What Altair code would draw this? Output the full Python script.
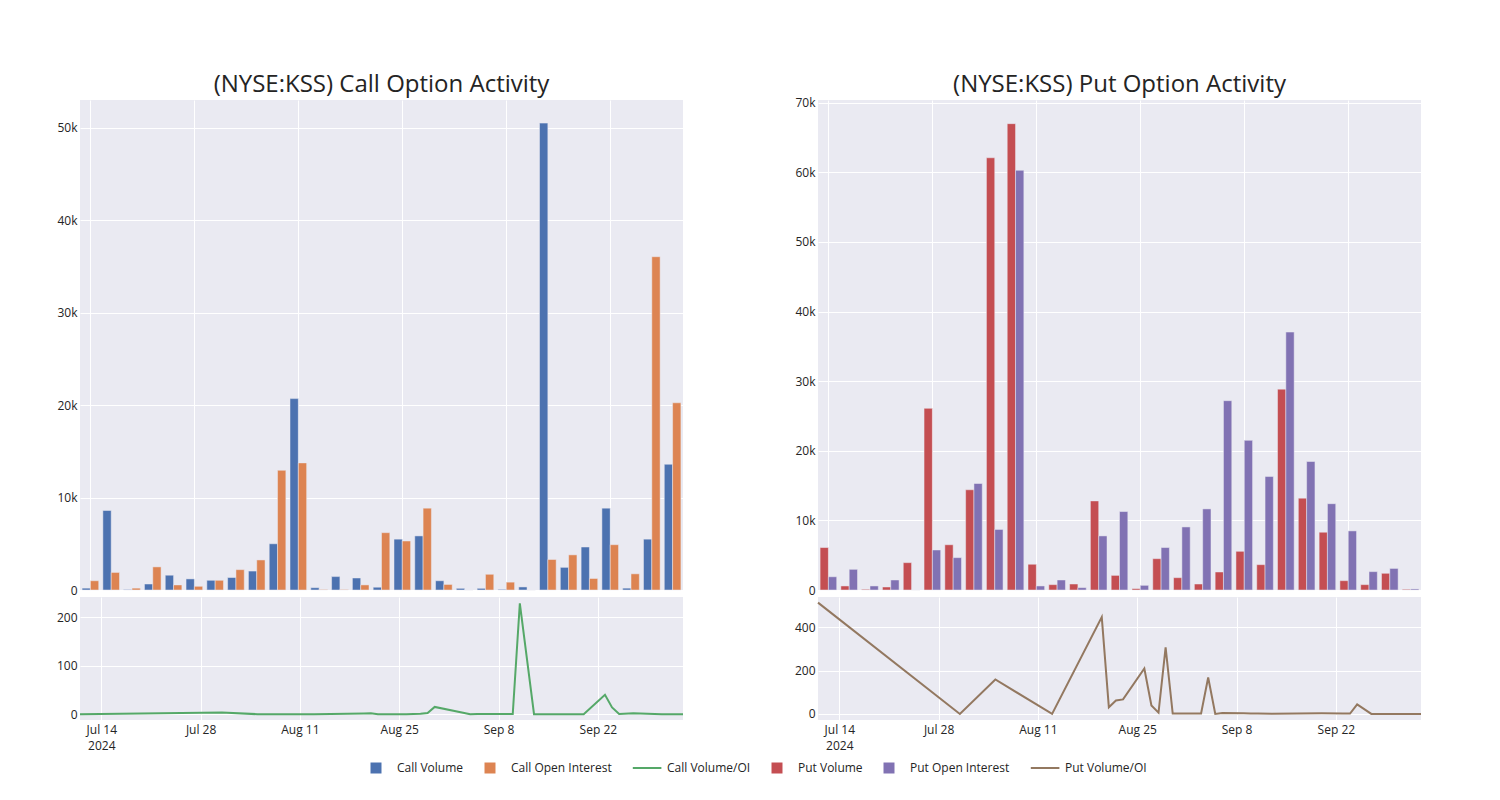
import altair as alt
import pandas as pd

# ---------------- data ----------------
dates = ["2024-07-11", "2024-07-31", "2024-08-05", "2024-08-13", "2024-08-20", "2024-08-21",
         "2024-08-22", "2024-08-23", "2024-08-26", "2024-08-27", "2024-08-28", "2024-08-29",
         "2024-08-30", "2024-09-03", "2024-09-04", "2024-09-05", "2024-09-06", "2024-09-09",
         "2024-09-10", "2024-09-11", "2024-09-13", "2024-09-20", "2024-09-23", "2024-09-24",
         "2024-09-25", "2024-09-27", "2024-09-30", "2024-10-01", "2024-10-04"]

call_volume = [200, 8600, 50, 650, 1600, 1200, 1050, 1350, 2050, 5000, 20700, 250, 1450, 1300,
               300, 5500, 5850, 1000, 180, 180, 70, 330, 50500, 2450, 4650, 8850, 200, 5500, 13600]
call_open_interest = [1000, 1900, 200, 2500, 550, 400, 1050, 2200, 3250, 12950, 13750, 50, 50, 550,
                      6200, 5300, 8850, 600, 0, 1700, 850, 0, 3300, 3800, 1250, 4900, 1750, 36050, 20250]
call_vol_oi = [0, 3.5, 0, 0, 1.5, 2, 0, 0, 0, 0.5, 1, 2.5, 15, 3, 0, 0.3, 0.4, 0.5, 0.5, 229,
               0, 0, 40, 14, 0.5, 2, 0.5, 0, 0]

put_volume = [6100, 580, 100, 430, 3930, 26100, 6500, 14400, 62100, 67000, 3700, 770, 860, 12800,
              2100, 200, 4500, 1770, 860, 2590, 5560, 3640, 28860, 13200, 8300, 1340, 770, 2400, 100]
put_open_interest = [1900, 2970, 580, 1440, 0, 5750, 4650, 15300, 8700, 60300, 580, 1440, 340, 7770,
                     11270, 670, 6100, 9060, 11650, 27200, 21500, 16300, 37060, 18460, 12400, 8490,
                     2640, 3100, 150]
put_vol_oi = [514, 0, 159, 0, 447, 31, 62, 67, 210, 39, 6, 307, 2, 2, 168, 0, 4, 3, 2.5, 2, 1, 3,
              2, 2, 44, 0, 0, 0, 0]

SERIES = ["Call Volume", "Call Open Interest", "Call Volume/OI",
          "Put Volume", "Put Open Interest", "Put Volume/OI"]
COLORS = ["#4C72B0", "#DD8452", "#55A868", "#C44E52", "#8172B3", "#937860"]
SQUARE = "M-1,-1H1V1H-1Z"
LINE = "M-2.4,-0.18H2.8V0.18H-2.4Z"
SHAPES = [SQUARE, SQUARE, LINE, SQUARE, SQUARE, LINE]

tick_dates = [(2024, 7, 14), (2024, 7, 28), (2024, 8, 11), (2024, 8, 25), (2024, 9, 8), (2024, 9, 22)]

# ---------------- frames ----------------
n = len(dates)
call_bars = pd.DataFrame({"date": dates * 2,
                          "series": ["Call Volume"] * n + ["Call Open Interest"] * n,
                          "value": call_volume + call_open_interest})
put_bars = pd.DataFrame({"date": dates * 2,
                         "series": ["Put Volume"] * n + ["Put Open Interest"] * n,
                         "value": put_volume + put_open_interest})
ts = [d + "T00:00:00" for d in dates]
call_line = pd.DataFrame({"date": ts, "series": "Call Volume/OI", "value": call_vol_oi})
put_line = pd.DataFrame({"date": ts, "series": "Put Volume/OI", "value": put_vol_oi})
legend_df = pd.DataFrame({"series": SERIES})

color_scale = alt.Scale(domain=SERIES, range=COLORS)

W = 603
H_TOP = 490
H_BOT = 123
EXT = 72


def y_axis(vals, kfmt=False):
    kw = dict(title=None, values=vals, ticks=False, domain=False, labelPadding=3,
              minExtent=EXT, maxExtent=EXT, gridColor="white", gridWidth=1)
    if kfmt:
        kw["labelExpr"] = "datum.value == 0 ? '0' : (datum.value / 1000) + 'k'"
    return alt.Axis(**kw)


def bar_panel(df, order, ymax, yvals, title, dy=0):
    return alt.Chart(df).mark_bar(stroke="#EAEAF2", strokeWidth=0.5).encode(
        x=alt.X("date:O", sort=None,
                scale=alt.Scale(paddingInner=0.2, paddingOuter=0.1),
                axis=alt.Axis(title=None, labels=False, ticks=False, domain=False,
                              grid=True, values=dates[::5], bandPosition=0.5,
                              gridColor="white", gridWidth=1)),
        xOffset=alt.XOffset("series:N", sort=order,
                            scale=alt.Scale(domain=order, paddingInner=0, paddingOuter=0)),
        y=alt.Y("value:Q", scale=alt.Scale(domain=[0, ymax], nice=False),
                axis=y_axis(yvals, True)),
        color=alt.Color("series:N", scale=color_scale, legend=None),
    ).properties(width=W, height=H_TOP,
                 title=alt.TitleParams(title, fontSize=24, fontWeight="normal",
                                       anchor="middle", color="#242424", offset=3, dy=dy))


label_expr = ("timeFormat(datum.value, '%b %-d') == 'Jul 14' ? ['Jul 14', '2024'] : "
              "timeFormat(datum.value, '%b %-d')")


def line_panel(df, ydom, yvals):
    return alt.Chart(df).mark_line(strokeWidth=2).encode(
        x=alt.X("date:T",
                scale=alt.Scale(domain=[alt.DateTime(year=2024, month=7, date=11),
                                        alt.DateTime(year=2024, month=10, date=4)], nice=False),
                axis=alt.Axis(title=None, ticks=False, domain=False, grid=True,
                              gridColor="white", gridWidth=1, labelPadding=4,
                              values=[alt.DateTime(year=y, month=m, date=d) for y, m, d in tick_dates],
                              labelExpr=label_expr, labelLineHeight=16)),
        y=alt.Y("value:Q", scale=alt.Scale(domain=ydom, nice=False, zero=False),
                axis=y_axis(yvals)),
        color=alt.Color("series:N", scale=color_scale, legend=None),
    ).properties(width=W, height=H_BOT)


leg = alt.Legend(title=None, orient="none", direction="horizontal", legendX=290, legendY=6,
                 symbolSize=121, symbolStrokeWidth=0, symbolOpacity=1, labelFontSize=12,
                 labelColor="#242424", labelOffset=15, columnPadding=20)

legend_chart = alt.Chart(legend_df).mark_point(filled=True, size=0, opacity=1).encode(
    color=alt.Color("series:N", scale=alt.Scale(domain=SERIES, range=COLORS), legend=leg),
    shape=alt.Shape("series:N", scale=alt.Scale(domain=SERIES, range=SHAPES), legend=leg),
).properties(width=1, height=1, view=alt.ViewBackground(fill="white", strokeWidth=0))

left = alt.vconcat(
    bar_panel(call_bars, ["Call Volume", "Call Open Interest"], 53000,
              [0, 10000, 20000, 30000, 40000, 50000], "(NYSE:KSS) Call Option Activity"),
    line_panel(call_line, [-12, 242], [0, 100, 200]),
    spacing=1,
)
right = alt.vconcat(
    bar_panel(put_bars, ["Put Volume", "Put Open Interest"], 70400,
              [0, 10000, 20000, 30000, 40000, 50000, 60000, 70000],
              "(NYSE:KSS) Put Option Activity", dy=3),
    line_panel(put_line, [-28, 540], [0, 200, 400]),
    spacing=1,
)

charts = alt.hconcat(left, right, spacing=59).resolve_scale(xOffset="independent")

chart = alt.vconcat(charts, legend_chart, spacing=5).resolve_scale(
    color="independent", shape="independent"
).properties(
    padding={"left": 0, "top": 64, "right": 5, "bottom": 5},
    background="white",
).configure(font="Open Sans").configure_view(
    strokeWidth=0, fill="#EAEAF2"
).configure_axis(
    labelColor="#242424", labelFontSize=12, labelFont="Open Sans"
).configure_legend(
    labelFont="Open Sans"
)

chart.save("out.html", embed_options={"renderer": "svg", "actions": False})
